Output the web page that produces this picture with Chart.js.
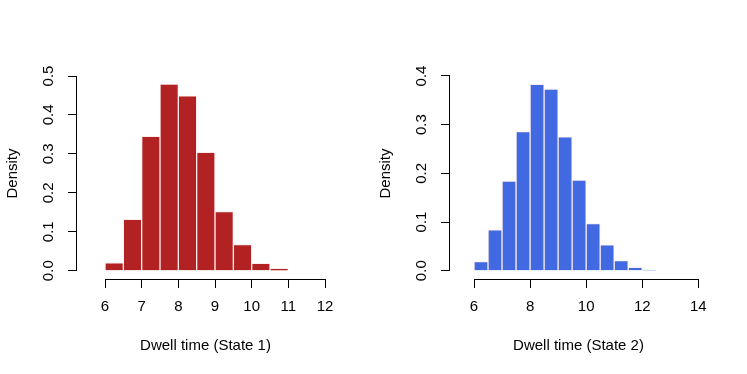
<!DOCTYPE html>
<html><head><meta charset="utf-8">
<script src="https://cdn.jsdelivr.net/npm/chart.js@4"></script>
<style>
html,body{margin:0;padding:0;background:#fff;}
#wrap{position:relative;width:747px;height:374px;}
.panel{position:absolute;top:0;width:374px;height:374px;}
</style></head>
<body><div id="wrap">
<div class="panel" style="left:0"><canvas id="c1" width="374" height="374"></canvas></div>
<div class="panel" style="left:373px"><canvas id="c2" width="374" height="374"></canvas></div>
</div>
<script>
// Data
const binWidth = 0.5;
const state1Starts = [6, 6.5, 7, 7.5, 8, 8.5, 9, 9.5, 10, 10.5];
const state1Density = [0.020, 0.132, 0.345, 0.479, 0.449, 0.304, 0.152, 0.067, 0.019, 0.006];
const state2Starts = [6, 6.5, 7, 7.5, 8, 8.5, 9, 9.5, 10, 10.5, 11, 11.5, 12];
const state2Density = [0.0185, 0.084, 0.184, 0.286, 0.383, 0.373, 0.275, 0.186, 0.097, 0.053, 0.021, 0.007, 0.0015];
const xTicks1 = [6, 7, 8, 9, 10, 11, 12];
const yTicks1 = [0, 0.1, 0.2, 0.3, 0.4, 0.5];
const xTicks2 = [6, 8, 10, 12, 14];
const yTicks2 = [0, 0.1, 0.2, 0.3, 0.4];
const xTitle1 = 'Dwell time (State 1)';
const xTitle2 = 'Dwell time (State 2)';
const yTitle = 'Density';

const FONT = '"Liberation Sans", Arial, sans-serif';
const FS = 15;
const AREA = {left: 77, right: 334, top: 68, bottom: 279};

const axisLines = {
  id: 'axisLines',
  afterDraw(chart) {
    const ctx = chart.ctx;
    const xs = chart.scales.x, ys = chart.scales.y;
    const xt = chart.options.plugins.axisLines.xTicks;
    const yt = chart.options.plugins.axisLines.yTicks;
    ctx.save();
    ctx.strokeStyle = '#000';
    ctx.lineWidth = 1;
    ctx.beginPath();
    const yb = Math.round(chart.chartArea.bottom) + 0.5;
    ctx.moveTo(xs.getPixelForValue(xt[0]), yb);
    ctx.lineTo(xs.getPixelForValue(xt[xt.length - 1]), yb);
    const xl = Math.round(chart.chartArea.left) - 0.5;
    ctx.moveTo(xl, ys.getPixelForValue(yt[0]));
    ctx.lineTo(xl, ys.getPixelForValue(yt[yt.length - 1]));
    ctx.stroke();
    // y tick labels, rotated (R style)
    ctx.fillStyle = '#000';
    ctx.font = FS + 'px ' + FONT;
    ctx.textAlign = 'center';
    ctx.textBaseline = 'middle';
    yt.forEach(v => {
      const py = ys.getPixelForValue(v);
      ctx.save();
      ctx.translate(49, py);
      ctx.rotate(-Math.PI / 2);
      ctx.fillText(v.toFixed(1), 0, 0);
      ctx.restore();
    });
    ctx.restore();
  }
};

function makeChart(id, starts, dens, color, xt, yt, xmin, xmax, ymin, ymax, title) {
  const pts = starts.map((s, i) => ({x: s + binWidth / 2, y: dens[i]}));
  return new Chart(document.getElementById(id), {
    type: 'bar',
    data: {datasets: [{
      data: pts,
      backgroundColor: color,
      borderColor: 'rgba(255,235,235,0.95)',
      borderWidth: 1,
      borderSkipped: 'bottom',
      barPercentage: 1,
      categoryPercentage: 1
    }]},
    options: {
      responsive: false,
      animation: false,
      layout: {padding: {top: AREA.top, right: 374 - AREA.right, left: 0, bottom: 0}},
      plugins: {legend: {display: false}, tooltip: {enabled: false},
        axisLines: {xTicks: xt, yTicks: yt}},
      scales: {
        x: {
          type: 'linear', min: xmin, max: xmax, offset: false,
          afterBuildTicks: s => { s.ticks = xt.map(v => ({value: v})); },
          afterFit: s => { s.height = 374 - AREA.bottom; },
          border: {display: false},
          grid: {display: true, drawOnChartArea: false, drawTicks: true, tickLength: 9, color: '#000', lineWidth: 1, offset: false},
          ticks: {color: '#000', font: {family: FONT, size: FS}, padding: 10, maxRotation: 0, autoSkip: false,
            callback: v => String(v)},
          title: {display: true, text: title, color: '#000', font: {family: FONT, size: FS}, padding: {top: 0, bottom: 19}}
        },
        y: {
          type: 'linear', min: ymin, max: ymax,
          afterBuildTicks: s => { s.ticks = yt.map(v => ({value: v})); },
          afterFit: s => { s.width = AREA.left; },
          border: {display: false},
          grid: {display: true, drawOnChartArea: false, drawTicks: true, tickLength: 9, color: '#000', lineWidth: 1},
          ticks: {display: false},
          title: {display: true, text: yTitle, color: '#000', font: {family: FONT, size: FS}, padding: {top: 4, bottom: 0}}
        }
      }
    },
    plugins: [axisLines]
  });
}

makeChart('c1', state1Starts, state1Density, '#B22222', xTicks1, yTicks1,
  6 - (105 - 77) / 36.67, 6 + (334 - 105) / 36.67, -(279 - 270.7) / 389.4, 0.5 + (76 - 68) / 389.4, xTitle1);
makeChart('c2', state2Starts, state2Density, '#4169E1', xTicks2, yTicks2,
  6 - (474 - 373 - 77) / 28.04, 6 + (334 - (474 - 373)) / 28.04, -(279 - 270.7) / 486.75, 0.4 + (76 - 68) / 486.75, xTitle2);
</script>
</body></html>
